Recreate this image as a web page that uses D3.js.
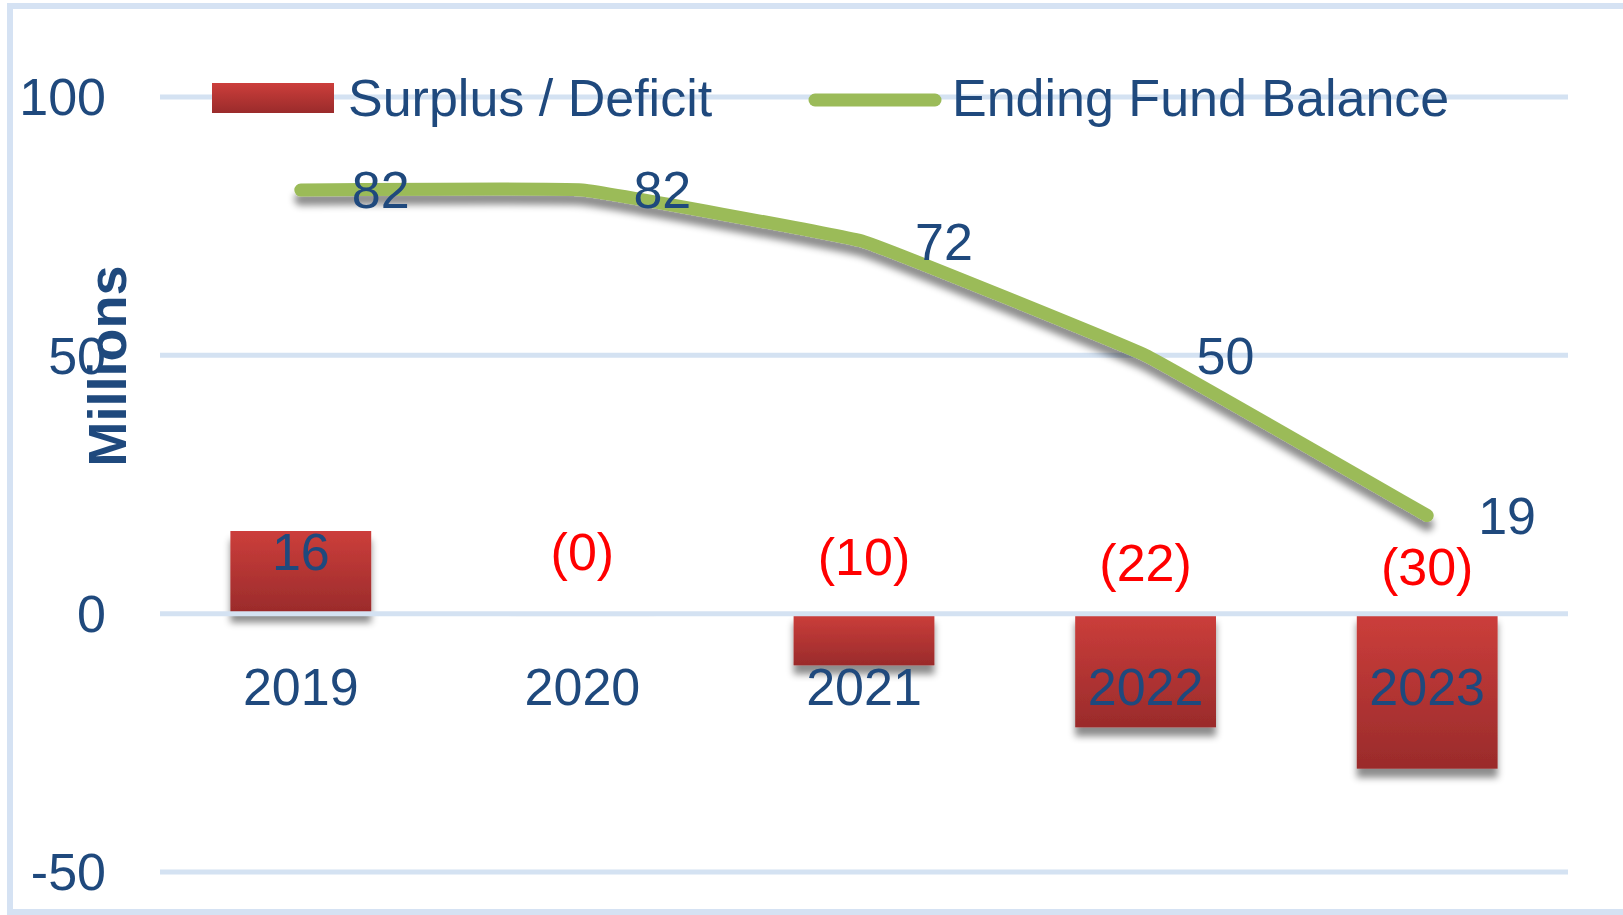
<!DOCTYPE html>
<html>
<head>
<meta charset="utf-8">
<script src="https://cdn.jsdelivr.net/npm/d3@7"></script>
<style>
  body { margin: 0; background: #fff; }
  svg text { font-family: "Liberation Sans", Arial, sans-serif; }
</style>
</head>
<body>
<div id="chart"></div>
<script>
// chart data
const years = ["2019", "2020", "2021", "2022", "2023"];
const surplus = [16, -0.4, -10, -22, -30];
const surplusLabels = ["16", "(0)", "(10)", "(22)", "(30)"];
const fundBalance = [82, 82, 72, 50, 19];
const yTicks = [100, 50, 0, -50];

const W = 1623, H = 915;
const textBlue = "#1f497d";

const svg = d3.select("#chart").append("svg")
    .attr("width", W)
    .attr("height", H);

const defs = svg.append("defs");

// red bar gradient
let grad = defs.append("linearGradient")
    .attr("id", "barGrad")
    .attr("x1", "0%").attr("y1", "0%")
    .attr("x2", "0%").attr("y2", "100%");
grad.append("stop").attr("offset", "0%").attr("stop-color", "#cc3e3b");
grad.append("stop").attr("offset", "100%").attr("stop-color", "#9a2b2b");

// shadows
defs.append("filter").attr("id", "barShadow")
    .attr("x", "-20%").attr("y", "-20%").attr("width", "140%").attr("height", "160%")
    .append("feDropShadow")
    .attr("dx", 0).attr("dy", 9).attr("stdDeviation", 3.5)
    .attr("flood-color", "#000").attr("flood-opacity", 0.45);

defs.append("filter").attr("id", "lineShadow")
    .attr("x", "-10%").attr("y", "-20%").attr("width", "120%").attr("height", "160%")
    .append("feDropShadow")
    .attr("dx", 0).attr("dy", 9).attr("stdDeviation", 3.5)
    .attr("flood-color", "#000").attr("flood-opacity", 0.45);

// outer frame
svg.append("rect")
    .attr("x", 10).attr("y", 6)
    .attr("width", W + 40).attr("height", 906)
    .attr("fill", "none")
    .attr("stroke", "#d5e2f3")
    .attr("stroke-width", 6);

// scales
const x = d3.scaleBand()
    .domain(years)
    .range([160, 1568])
    .paddingInner(0.5)
    .paddingOuter(0.25);

const y = d3.scaleLinear()
    .domain([-50, 100])
    .range([872, 97]);

// bars
svg.append("g").selectAll("rect")
    .data(surplus)
    .join("rect")
    .attr("x", (d, i) => x(years[i]))
    .attr("width", x.bandwidth())
    .attr("y", d => y(Math.max(0, d)))
    .attr("height", d => Math.abs(y(d) - y(0)))
    .attr("fill", "url(#barGrad)")
    .attr("filter", "url(#barShadow)");

// gridlines
svg.append("g").selectAll("line")
    .data(yTicks)
    .join("line")
    .attr("x1", 160).attr("x2", 1568)
    .attr("y1", d => y(d)).attr("y2", d => y(d))
    .attr("stroke", "#d4e2f2")
    .attr("stroke-width", 5);

// y tick labels
svg.append("g").selectAll("text")
    .data(yTicks)
    .join("text")
    .attr("x", 106)
    .attr("y", d => y(d))
    .attr("dy", "0.35em")
    .attr("text-anchor", "end")
    .attr("font-size", 52)
    .attr("fill", textBlue)
    .text(d => d);

// y axis title
svg.append("text")
    .attr("transform", "translate(126,366) rotate(-90)")
    .attr("text-anchor", "middle")
    .attr("font-size", 54)
    .attr("font-weight", "bold")
    .attr("fill", textBlue)
    .text("Millions");

// category labels
svg.append("g").selectAll("text")
    .data(years)
    .join("text")
    .attr("x", d => x(d) + x.bandwidth() / 2)
    .attr("y", 705)
    .attr("text-anchor", "middle")
    .attr("font-size", 52)
    .attr("fill", textBlue)
    .text(d => d);

// bar value labels
svg.append("g").selectAll("text")
    .data(surplus)
    .join("text")
    .attr("x", (d, i) => x(years[i]) + x.bandwidth() / 2)
    .attr("y", d => d >= 0 ? y(d) + 39 : y(0) - 44 + (y(d) - y(0)) * 0.1)
    .attr("text-anchor", "middle")
    .attr("font-size", 52)
    .attr("fill", d => d >= 0 ? textBlue : "#ff0000")
    .text((d, i) => surplusLabels[i]);

// fund balance line
const line = d3.line()
    .x((d, i) => x(years[i]) + x.bandwidth() / 2)
    .y(d => y(d))
    .curve(d3.curveCardinal.tension(0.78));

svg.append("path")
    .datum(fundBalance)
    .attr("d", line)
    .attr("fill", "none")
    .attr("stroke", "#9bbb59")
    .attr("stroke-width", 13)
    .attr("stroke-linecap", "round")
    .attr("stroke-linejoin", "round")
    .attr("filter", "url(#lineShadow)");

// line value labels
svg.append("g").selectAll("text")
    .data(fundBalance)
    .join("text")
    .attr("x", (d, i) => x(years[i]) + x.bandwidth() / 2 + 51)
    .attr("y", d => y(d))
    .attr("dy", "0.35em")
    .attr("font-size", 52)
    .attr("fill", textBlue)
    .text(d => d);

// legend
const legend = svg.append("g");
legend.append("rect")
    .attr("x", 212).attr("y", 83)
    .attr("width", 122).attr("height", 30)
    .attr("fill", "url(#barGrad)");
legend.append("text")
    .attr("x", 348).attr("y", 98)
    .attr("dy", "0.35em")
    .attr("font-size", 52)
    .attr("fill", textBlue)
    .text("Surplus / Deficit");
legend.append("line")
    .attr("x1", 815).attr("x2", 935)
    .attr("y1", 100).attr("y2", 100)
    .attr("stroke", "#9bbb59")
    .attr("stroke-width", 13)
    .attr("stroke-linecap", "round");
legend.append("text")
    .attr("x", 952).attr("y", 98)
    .attr("dy", "0.35em")
    .attr("font-size", 52)
    .attr("fill", textBlue)
    .text("Ending Fund Balance");
</script>
</body>
</html>
